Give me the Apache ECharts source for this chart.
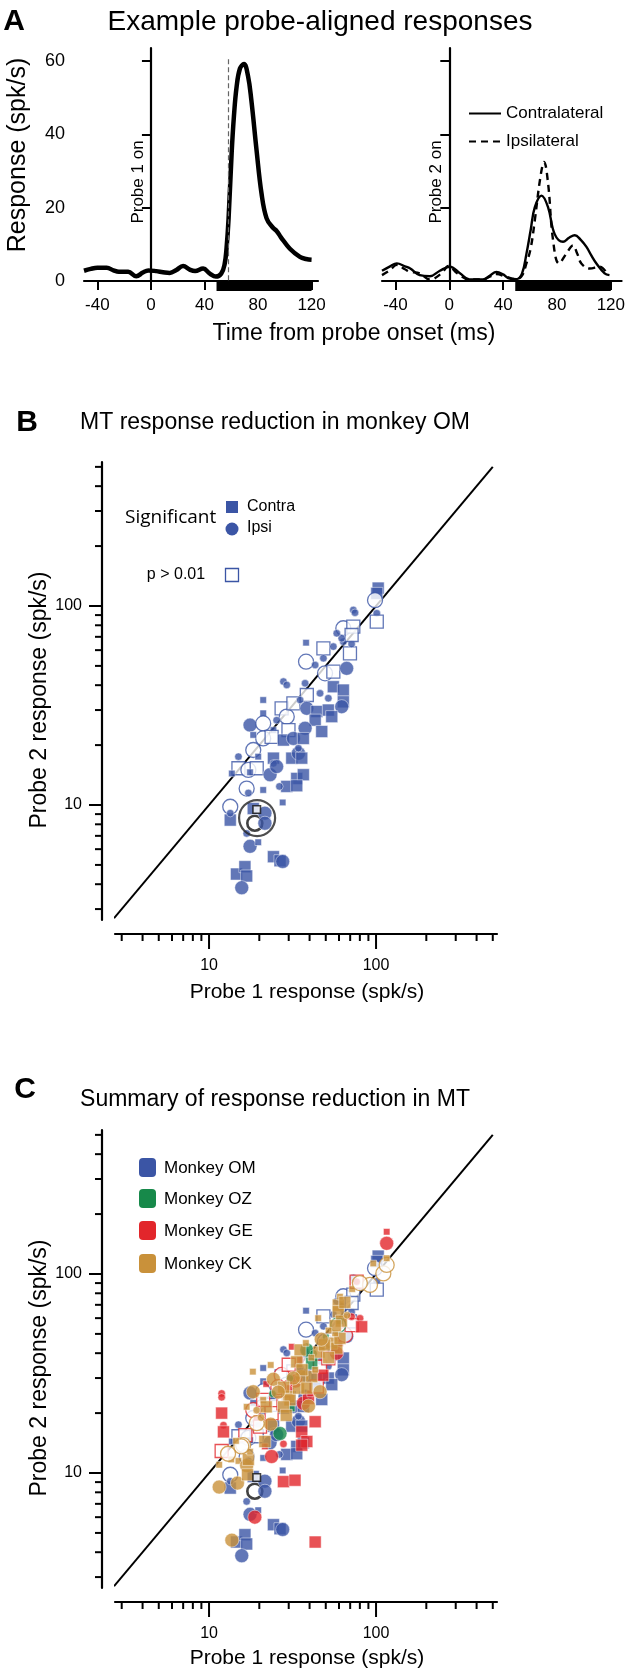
<!DOCTYPE html>
<html><head><meta charset="utf-8">
<script src="https://cdn.jsdelivr.net/npm/echarts@6/dist/echarts.min.js"></script>
<style>html,body{margin:0;padding:0;background:#fff}#c{width:628px;height:1675px}</style>
</head><body><div id="c"></div>
<script>
// ---------- Panel A data ----------
const timeTicks = [-40, 0, 40, 80, 120];
const respTicks = [0, 20, 40, 60];
const probeOnTime = 0;
const latencyTime = 58;
const analysisWindow = [49, 120];
const probe1Curve = [[-50,2.8],[-45,3.3],[-40,3.6],[-33,3.6],[-28,2.9],[-24,2.5],[-17,2.5],[-11,1.3],[-6,2.3],[-2,2.9],[4,2.7],[9,2.4],[14,2.2],[19,3.0],[24,4.1],[29,3.1],[33,2.7],[39,3.4],[44,2.0],[48.5,1.2],[52.5,2.0],[55,4.5],[56.5,9],[58,17],[60.3,35],[62,45],[64,53],[66.5,58],[69.5,59.2],[72.5,56],[75,49.4],[78.9,35.7],[82.6,23.9],[86.4,17.1],[91,14.6],[94,13.6],[97,12],[103.8,8.8],[111.3,6.6],[116,6],[120,5.8]];
const contraCurve = [[-50,2.8],[-44,4],[-39,4.8],[-33,4],[-29,3.4],[-22,1.6],[-14.4,1.3],[-7,2.8],[0.4,3.9],[7.9,2.1],[15,0.4],[25,0.4],[30,1.4],[35,2.5],[40,1.8],[43.7,0.8],[49.9,0.5],[54,2],[57.3,7.4],[60.5,14],[63.5,20.1],[68.5,23.3],[73.4,20.1],[78.3,12.8],[84.5,10.7],[89,11.8],[93.2,12.5],[97.5,11.3],[101.9,9.3],[105.5,7],[109.3,4.8],[115.4,2.1],[119,1.6]];
const ipsiCurve = [[-50,1.6],[-44,3],[-39,4.4],[-33,3.2],[-29,2.5],[-22,2.1],[-14.4,0.4],[-5.7,2.1],[-0.6,4.1],[5.9,2.1],[15,0.4],[25,0.4],[30,1.2],[35,1.9],[42.5,1.1],[50,0.5],[54,1.5],[57.3,4.8],[60.5,9],[63.5,16.5],[67.7,28.4],[70.4,32.5],[73.4,26.6],[77.1,11.1],[81.5,4.8],[87,7.5],[91.9,9.7],[95,7.5],[98.1,4.8],[104.3,3.4],[111.7,3.9],[117.9,1.6]];

// ---------- Panels B/C data: [probe1, probe2, kind, large]
// kind: Cs contra significant, Is ipsi significant, Cn contra n.s., In ipsi n.s.
const logMajorTicks = [10, 100];
const logMinorTicks = [3,4,5,6,7,8,9,20,30,40,50,60,70,80,90,200,300,400,500];
const unityLine = [[2.7,2.7],[500,500]];
const monkeyOM = [
[38.1,65.4,'Cs',0],[48.4,61.3,'Cn',1],[55.5,62.5,'Is',0],[63.7,66.2,'Is',0],[69.8,57.8,'Cn',1],[38.1,52.5,'In',1],
[43.2,50.5,'Is',0],[48.4,54.6,'Is',0],[49.5,45.9,'In',1],[55.5,46.8,'Cn',1],[66.7,48.6,'Is',1],[71.4,64.4,'Is',0],
[27.9,41.7,'Is',0],[29.2,40.1,'Is',0],[37.6,40.9,'Is',0],[55.5,39.3,'Cs',1],[63.7,37.8,'Cs',1],[46.2,36.4,'Is',0],
[51.8,34.4,'Is',0],[38.5,35.7,'Cn',1],[63.7,33.0,'Cs',1],[62.3,31.2,'Is',1],[21.1,33.7,'Cs',0],[21.1,28.9,'Cs',0],
[27.2,30.6,'Cn',1],[29.2,27.8,'In',1],[32.0,32.4,'Cn',1],[35.1,33.7,'Is',0],[38.5,30.6,'Is',1],[44.2,29.5,'Cs',1],
[51.8,30.0,'Cs',1],[54.3,27.8,'Cs',1],[43.2,26.7,'Cs',1],[17.6,25.2,'Is',1],[21.1,25.7,'In',1],[25.4,26.7,'Is',0],
[24.3,23.8,'Cs',0],[29.9,23.8,'Cn',1],[37.6,24.3,'Is',1],[47.3,23.4,'Cs',1],[21.1,21.6,'In',1],[23.7,22.0,'Cn',1],
[27.9,21.2,'Cs',1],[32.0,21.6,'Is',1],[36.7,21.6,'Cs',1],[18.4,22.5,'Cs',0],[18.4,18.9,'In',1],[15.0,17.5,'Is',0],
[19.7,17.5,'Cs',0],[24.3,17.2,'Cs',1],[24.3,16.2,'Is',0],[31.3,17.2,'Cs',1],[34.3,18.2,'Is',1],[35.9,17.2,'Cs',1],
[34.3,19.3,'Is',0],[15.0,15.3,'Cn',1],[17.2,15.0,'In',1],[19.3,15.3,'Cn',1],[13.7,14.4,'Cs',0],[17.6,14.6,'Cs',0],
[23.2,14.2,'Is',1],[25.4,15.6,'Is',1],[33.5,13.6,'Cs',1],[36.7,14.2,'Cs',1],[29.2,12.4,'Cs',1],[26.4,12.4,'Is',0],
[33.5,12.5,'Cs',1],[16.8,12.1,'In',1],[17.2,11.5,'Is',0],[21.1,11.9,'Cs',0],[27.6,10.3,'Cs',0],[13.4,9.8,'In',1],
[13.4,8.4,'Cs',1],[13.4,9.1,'Is',0],[18.4,9.6,'Cs',1],[21.6,9.1,'Is',1],[21.6,8.1,'Is',1],[16.8,7.2,'Is',0],
[17.6,6.2,'Is',1],[19.7,6.5,'Cs',0],[24.3,5.5,'Cs',1],[26.6,5.25,'Cs',1],[27.6,5.2,'Is',1],[14.6,4.5,'Cs',1],
[16.4,4.9,'Cs',1],[16.8,4.4,'Cs',1],[15.7,3.84,'Is',1],[103,123,'Cs',1],[101,115.7,'Cs',1],[98.6,107,'In',1],
[101,91.9,'Is',0],[101,83.4,'Cn',1],[73.1,95.5,'Is',0],[74.8,92.5,'Is',0],[63.7,77.3,'In',1],[73.1,78.7,'Cn',1],
[71.4,71.5,'Cn',1],[62.3,68.8,'Is',0],[58.2,72.9,'Is',0]
];
const monkeyOZ = [
[26.6,15.8,'Is',1],[31.3,21.1,'Cs',0],[30.5,29.9,'Is',0],[38.5,41.5,'Is',1],[41.2,35.6,'Cs',1],[59.4,55.4,'In',1],
[42.2,39.9,'Is',0],[60.5,58.0,'Cs',0],[24.0,25.0,'Is',0],[50.0,48.0,'Cs',0]
];
const monkeyGE = [
[11.9,25.1,'Is',0],[11.9,24.0,'Is',0],[11.9,20.0,'Cs',1],[12.2,17.4,'Is',0],[12.2,16.1,'Cs',1],[11.9,12.9,'Cn',1],
[18.4,20.7,'In',1],[19.3,18.8,'Cs',0],[20.2,17.1,'Cn',1],[23.7,20.0,'Cn',1],[21.1,23.3,'Cn',1],[27.2,31.1,'In',1],
[27.9,22.4,'Cn',1],[30.5,26.7,'Cs',0],[31.3,43.1,'Cs',0],[35.1,37.0,'Cs',0],[36.7,22.4,'Is',1],[39.4,23.7,'Cs',1],
[40.3,25.1,'Cs',0],[44.2,27.2,'Cn',1],[46.2,34.2,'Cn',1],[51.8,37.7,'Cn',1],[60.8,44.9,'Cs',0],[65.2,49.4,'In',1],
[71.4,55.4,'Cn',1],[80.2,59.9,'Is',0],[82.0,54.3,'Cs',1],[35.9,16.1,'Cs',1],[38.5,14.4,'Cs',1],[35.9,13.8,'Cs',1],
[43.2,18.1,'Cs',1],[27.9,14.0,'Is',0],[23.7,12.1,'Is',1],[21.6,13.6,'Cs',0],[27.9,9.05,'Cs',1],[32.7,9.2,'Cs',1],
[18.8,6.0,'Is',1],[43.2,4.5,'Cs',1],[115.8,163,'Cs',0],[115.8,142.6,'Is',1],[76.5,91.5,'Cn',1],[76.5,91.5,'Is',0],
[71.4,61.0,'Is',0],[26.0,27.0,'In',1],[22.0,28.0,'Cs',0],[33.0,29.0,'Is',1],[48.0,31.0,'Cs',1],[58.0,40.0,'Is',1],
[16.5,15.5,'Cn',1],[30.0,35.0,'Cn',1]
];
const monkeyCK = [
[11.5,8.5,'Is',1],[11.5,11.0,'Cs',0],[13.7,4.6,'Is',1],[14.8,8.9,'Is',1],[13.6,11.7,'Cs',0],[15.0,11.5,'Cs',0],
[16.8,10.9,'Is',1],[17.2,11.7,'Cs',1],[16.0,13.8,'In',1],[17.6,12.8,'Cs',0],[21.6,14.4,'Cs',1],[16.8,21.5,'Cs',0],
[18.4,25.6,'Is',1],[18.3,32.3,'Cs',0],[24.3,29.6,'Is',1],[23.4,34.9,'Cs',0],[23.4,17.6,'Is',1],[19.3,20.7,'Is',0],
[21.1,23.3,'Cs',0],[29.9,24.2,'Cs',1],[30.5,23.3,'Cs',1],[34.3,26.7,'Cs',1],[35.9,30.5,'Is',1],[39.4,21.7,'Is',1],
[35.1,41.5,'Cs',1],[33.5,36.2,'Cs',1],[41.2,30.5,'Cs',1],[38.5,26.7,'Cs',1],[46.2,25.6,'Is',1],[43.2,33.0,'Cs',0],
[54.3,44.9,'Cs',1],[58.2,42.4,'Cs',1],[60.8,47.5,'Cs',1],[56.9,50.3,'Cs',0],[27.9,21.5,'Cs',1],[19.3,17.8,'In',1],
[15.6,13.6,'In',1],[59.4,69.8,'Cs',1],[60.8,76.9,'Cs',0],[59.4,64.7,'Cs',1],[92.0,88.1,'In',1],[110.6,100.7,'In',1],
[115.8,111,'In',1],[96.3,113,'Cs',0],[115.8,120,'Cs',0],
[45.5,40.5,'Cs',1],[49.0,44.0,'Cs',1],[52.0,38.0,'Cs',1],[47.0,47.0,'Is',1],[41.0,38.0,'Cs',0],[36.0,33.0,'Cs',1],
[32.0,30.0,'Is',1],[28.0,27.0,'Cs',1],[26.0,25.5,'Is',1],[22.0,21.5,'Cs',1],[20.5,19.0,'Is',0],[29.0,19.5,'Cs',1],
[14.5,14.5,'Cs',0],[13.0,12.5,'In',1],[17.0,9.8,'Cs',1],[65.0,72.0,'Cs',1],[62.0,58.0,'Cs',1],[67.0,62.0,'Is',0],
[57.0,55.0,'Cs',1],[52.0,52.0,'Cs',0],[72.0,84.0,'Cs',0],[80.0,90.0,'In',1],[45.0,60.0,'Cs',0],[38.0,45.0,'Cs',0]
];
const exampleCellCircle = [[18.8,8.1,'In',1]];
const exampleCellSquare = [[19.3,9.5,'Cn',0]];
const highlightRing = [[19.4,8.6]];

// ---------- styling / layout ----------
const FONT = "'Liberation Sans', Arial, sans-serif";
const COL = {OM:'#3b55a5', OZ:'#17894a', GE:'#e2262b', CK:'#c9913a'};
const LOGX = [2.735, 530], LOGY = [2.644, 529];

function marker(p, color, bw) {
  const sq = p[2][0] === 'C', filled = p[2][1] === 's', big = p[3] === 1;
  const size = sq ? (big ? 12 : 6.5) : (big ? 14 : 7.5);
  return {
    value: [p[0], p[1]],
    symbol: sq ? 'rect' : 'circle',
    symbolSize: filled ? size : size + 1,
    itemStyle: filled ? {color: color, borderColor: '#fff', borderWidth: 0.6}
                      : {color: '#fff', borderColor: color, borderWidth: bw || 1.3}
  };
}
function scatter(arr, color, gi, z, bw) {
  return {type:'scatter', xAxisIndex:gi, yAxisIndex:gi, z: z || 2, silent:true,
    data: arr.map(p => marker(p, color, bw))};
}
function tickSeries(gi) {
  const xd = [], yd = [];
  logMajorTicks.forEach(v => { xd.push([v, LOGY[0], 1]); yd.push([LOGX[0], v, 1]); });
  logMinorTicks.forEach(v => { xd.push([v, LOGY[0], 0]); yd.push([LOGX[0], v, 0]); });
  return [
    {type:'custom', xAxisIndex:gi, yAxisIndex:gi, clip:false, silent:true, data: xd, encode:{x:0,y:1},
      renderItem: (params, api) => {
        const p = api.coord([api.value(0), api.value(1)]); const len = api.value(2) ? 15 : 7;
        return {type:'line', shape:{x1:p[0], y1:p[1]+14, x2:p[0], y2:p[1]+14+len}, style:{stroke:'#000', lineWidth:2}};
      }},
    {type:'custom', xAxisIndex:gi, yAxisIndex:gi, clip:false, silent:true, data: yd, encode:{x:0,y:1},
      renderItem: (params, api) => {
        const p = api.coord([api.value(0), api.value(1)]); const len = api.value(2) ? 13 : 7;
        return {type:'line', shape:{x1:p[0]-13, y1:p[1], x2:p[0]-13-len, y2:p[1]}, style:{stroke:'#000', lineWidth:2}};
      }}
  ];
}
function windowBar(gi) {
  return {type:'custom', xAxisIndex:gi, yAxisIndex:gi, clip:false, silent:true, data:[analysisWindow], encode:{x:[0,1]},
    renderItem: (params, api) => {
      const a = api.coord([api.value(0), 0]), b = api.coord([api.value(1), 0]);
      return {type:'rect', shape:{x:a[0], y:a[1], width:b[0]-a[0], height:10}, style:{fill:'#000'}};
    }};
}
const logLabel = v => (Math.abs(v-10) < 1e-6 || Math.abs(v-100) < 1e-6) ? String(Math.round(v)) : '';
function logX(gi) {
  return {gridIndex:gi, type:'log', logBase:10, min:LOGX[0], max:LOGX[1], offset:14,
    axisLine:{lineStyle:{color:'#000', width:2.2}}, axisTick:{show:false}, splitLine:{show:false}, minorTick:{show:false},
    axisLabel:{formatter: logLabel, margin:24, fontSize:16, color:'#000', fontFamily:FONT, showMinLabel:false, showMaxLabel:false}};
}
function logY(gi) {
  return {gridIndex:gi, type:'log', logBase:10, min:LOGY[0], max:LOGY[1], offset:13,
    axisLine:{lineStyle:{color:'#000', width:2.2}}, axisTick:{show:false}, splitLine:{show:false}, minorTick:{show:false},
    axisLabel:{formatter: logLabel, margin:20, fontSize:16, color:'#000', fontFamily:FONT, showMinLabel:false, showMaxLabel:false}};
}
function linX(gi, max) {
  return {gridIndex:gi, type:'value', min:-50, max:max, offset:5,
    axisLine:{lineStyle:{color:'#000', width:2.2}},
    axisTick:{length:9, lineStyle:{color:'#000', width:2}, customValues: timeTicks},
    axisLabel:{customValues: timeTicks, fontSize:17, color:'#000', margin:11, fontFamily:FONT},
    splitLine:{show:false}};
}
function linY(gi, offset, showLabel) {
  return {gridIndex:gi, type:'value', min:0, max:63.6, offset:offset,
    axisLine:{lineStyle:{color:'#000', width:2.2}},
    axisTick:{length:9, lineStyle:{color:'#000', width:2}, customValues: respTicks},
    axisLabel:{show:showLabel, customValues: respTicks, fontSize:18, color:'#000', margin:14, fontFamily:FONT},
    splitLine:{show:false}};
}
function txt(text, x, y, size, opts) {
  opts = opts || {};
  return {type:'text', x:x, y:y, rotation: opts.rot ? Math.PI/2 : 0, silent:true,
    style:{text:text, fill:'#000', font:(opts.bold ? 'bold ' : '') + size + 'px ' + (opts.family || FONT),
      align:opts.align || 'center', verticalAlign:'middle'}};
}

const option = {
  animation:false,
  backgroundColor:'#fff',
  grid:[
    {left:84, top:48, width:234, height:233},
    {left:382, top:48, width:240, height:233},
    {left:115, top:462, width:382, height:458},
    {left:115, top:1130, width:382, height:458}
  ],
  xAxis:[linX(0,124.8), linX(1,128), logX(2), logX(3)],
  yAxis:[linY(0,5,true), linY(1,6,false), logY(2), logY(3)],
  legend:{data:['Contralateral','Ipsilateral'], left:463, top:100, orient:'vertical', itemWidth:32, itemHeight:14, itemGap:11,
    selectedMode:false, itemStyle:{opacity:0}, textStyle:{fontSize:17, color:'#000', fontFamily:FONT}},
  series:[
    {name:'Probe 1', type:'line', xAxisIndex:0, yAxisIndex:0, data:probe1Curve, smooth:0.4, showSymbol:false, symbol:'none',
      lineStyle:{color:'#000', width:4.5}, z:3,
      markLine:{silent:true, symbol:'none', label:{show:false}, data:[
        [{coord:[probeOnTime,60], lineStyle:{color:'#000', width:1.5, type:'solid'}}, {coord:[probeOnTime,0]}],
        [{coord:[latencyTime,60.5], lineStyle:{color:'#666', width:1.2, type:[5,3]}}, {coord:[latencyTime,0]}]
      ]}},
    windowBar(0), windowBar(1),
    {name:'Contralateral', type:'line', xAxisIndex:1, yAxisIndex:1, data:contraCurve, smooth:0.4, showSymbol:false, symbol:'none',
      lineStyle:{color:'#000', width:2.4}, itemStyle:{color:'#000'}, z:3,
      markLine:{silent:true, symbol:'none', label:{show:false}, data:[
        [{coord:[probeOnTime,60], lineStyle:{color:'#000', width:1.5, type:'solid'}}, {coord:[probeOnTime,0]}]
      ]}},
    {name:'Ipsilateral', type:'line', xAxisIndex:1, yAxisIndex:1, data:ipsiCurve, smooth:0.4, showSymbol:false, symbol:'none',
      lineStyle:{color:'#000', width:2.4, type:[7,5]}, itemStyle:{color:'#000'}, z:3},
    // Panel B
    {type:'line', xAxisIndex:2, yAxisIndex:2, data:unityLine, showSymbol:false, symbol:'none', lineStyle:{color:'#000', width:2}, z:1, silent:true},
    ...tickSeries(2),
    scatter(exampleCellCircle, '#111', 2, 2, 2.6),
    scatter(monkeyOM, COL.OM, 2, 3),
    scatter(exampleCellSquare, '#111', 2, 4, 1.6),
    {type:'scatter', xAxisIndex:2, yAxisIndex:2, z:5, silent:true, data:highlightRing, symbol:'circle', symbolSize:36,
      itemStyle:{color:'rgba(0,0,0,0)', borderColor:'#222', borderWidth:2.2}},
    // Panel C
    {type:'line', xAxisIndex:3, yAxisIndex:3, data:unityLine, showSymbol:false, symbol:'none', lineStyle:{color:'#000', width:2}, z:1, silent:true},
    ...tickSeries(3),
    scatter(exampleCellCircle, '#111', 3, 2, 2.6),
    scatter(monkeyOM, COL.OM, 3, 3),
    scatter(monkeyGE, COL.GE, 3, 3),
    scatter(monkeyOZ, COL.OZ, 3, 3),
    scatter(monkeyCK, COL.CK, 3, 3),
    scatter(exampleCellSquare, '#111', 3, 4, 1.6)
  ],
  graphic:[
    txt('A', 14, 22, 30, {bold:true}),
    txt('Example probe-aligned responses', 320, 22, 28),
    txt('Response (spk/s)', 18, 155, 25, {rot:true}),
    txt('Time from probe onset (ms)', 354, 334, 23),
    txt('Probe 1 on', 138, 182, 17, {rot:true}),
    txt('Probe 2 on', 436, 182, 17, {rot:true}),
    txt('B', 27, 423, 30, {bold:true}),
    txt('MT response reduction in monkey OM', 275, 423, 23),
    txt('Probe 2 response (spk/s)', 40, 700, 23, {rot:true}),
    txt('Probe 1 response (spk/s)', 307, 992, 21),
    txt('Significant', 125, 518, 19, {align:'left', family:"'Open Sans', sans-serif"}),
    {type:'rect', x:226, y:501, shape:{width:12, height:12}, style:{fill:COL.OM}, silent:true},
    {type:'circle', x:232, y:529, shape:{r:6.5}, style:{fill:COL.OM}, silent:true},
    {type:'rect', x:225.5, y:568.5, shape:{width:13, height:13}, style:{fill:'#fff', stroke:COL.OM, lineWidth:1.3}, silent:true},
    txt('Contra', 247, 507, 16, {align:'left'}),
    txt('Ipsi', 247, 528, 16, {align:'left'}),
    txt('p > 0.01', 176, 575, 16),
    txt('C', 25, 1090, 30, {bold:true}),
    txt('Summary of response reduction in MT', 275, 1100, 23),
    txt('Probe 2 response (spk/s)', 40, 1368, 23, {rot:true}),
    txt('Probe 1 response (spk/s)', 307, 1658, 21),
    {type:'rect', x:139, y:1158, shape:{width:17, height:19, r:4}, style:{fill:COL.OM}, silent:true},
    {type:'rect', x:139, y:1189, shape:{width:17, height:19, r:4}, style:{fill:COL.OZ}, silent:true},
    {type:'rect', x:139, y:1221, shape:{width:17, height:19, r:4}, style:{fill:COL.GE}, silent:true},
    {type:'rect', x:139, y:1254, shape:{width:17, height:19, r:4}, style:{fill:COL.CK}, silent:true},
    txt('Monkey OM', 164, 1168, 17, {align:'left'}),
    txt('Monkey OZ', 164, 1199, 17, {align:'left'}),
    txt('Monkey GE', 164, 1231, 17, {align:'left'}),
    txt('Monkey CK', 164, 1264, 17, {align:'left'})
  ]
};
const chart = echarts.init(document.getElementById('c'), null, {renderer:'canvas', width:628, height:1675});
chart.setOption(option);
</script>
</body></html>
